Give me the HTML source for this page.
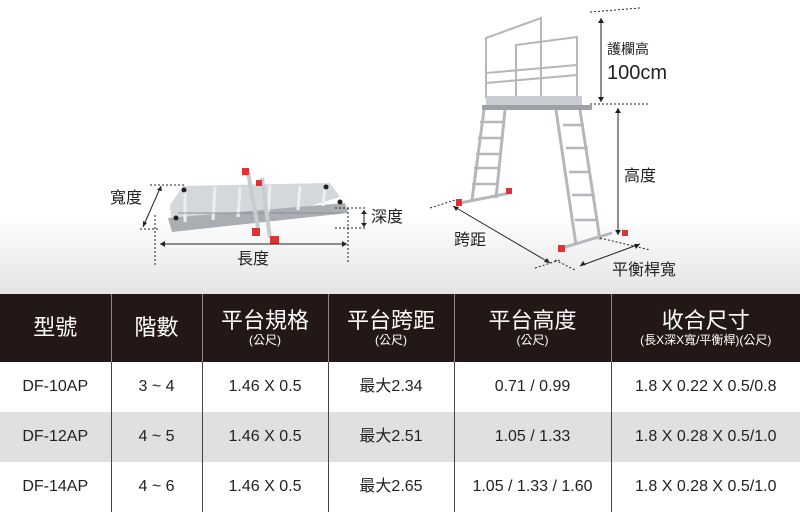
<!DOCTYPE html>
<html><head><meta charset="utf-8"><style>
*{margin:0;padding:0;box-sizing:border-box}
body{width:800px;height:513px;overflow:hidden;background:#fff;font-family:"Liberation Sans","Noto Sans CJK TC",sans-serif;position:relative}
.top{position:absolute;left:0;top:0;width:800px;height:294px;background:linear-gradient(#fff 0,#fff 215px,#e4e4e4 294px)}
svg{position:absolute;left:0;top:0}
.lbl{position:absolute;font-size:16px;color:#222;white-space:nowrap;line-height:1}
table{position:absolute;left:0;top:294px;width:800px;border-collapse:collapse;table-layout:fixed}
th{background:#231815;color:#fff;font-weight:normal;height:68px;border-left:1px solid #888;font-size:22px;line-height:1.1;vertical-align:middle}
th small{display:block;font-size:12px;line-height:1.1}
td{height:50px;text-align:center;font-size:16px;color:#222;border-left:1px solid #444;line-height:20px;vertical-align:middle}
td span{display:inline-block;line-height:20px;vertical-align:top}
th:first-child,td:first-child{border-left:none}
tr.g td{background:#e0e0e0}
</style></head><body>
<div class="top"></div>
<svg width="800" height="294" viewBox="0 0 800 294">
<!-- folded ladder -->
<g>
<path d="M170 205 L183 186 L330 183 L340 197 L258 222 L172 226 Z" fill="#d4d7db"/>
<path d="M168 218 L345 203 L348 213 L172 232 Z" fill="#a9aeb3"/>
<path d="M185 192 L185 222 M215 187 L213 220 M240 187 L238 217 M270 185 L268 214 M300 186 L298 210 M325 186 L323 206" stroke="#eceef0" stroke-width="3"/>
<path d="M178 213 H343" stroke="#8a8f94" stroke-width="1"/>
<g fill="#222"><circle cx="184" cy="190" r="2.5"/><circle cx="326" cy="187" r="2.5"/><circle cx="340" cy="202" r="2.5"/><circle cx="176" cy="218" r="2.5"/></g>
<path d="M248 172 L258 228" stroke="#c8ccd0" stroke-width="4"/>
<path d="M262 178 L270 238" stroke="#c8ccd0" stroke-width="4"/>
<g fill="#d33"><rect x="242" y="168" width="7" height="7"/><rect x="256" y="180" width="6" height="6"/><rect x="252" y="228" width="8" height="8"/><rect x="270" y="236" width="9" height="8"/></g>
</g>
<!-- big ladder -->
<g stroke="#b4b8bc" fill="none" stroke-width="2">
<path d="M486 98 V38 L541 18 V98 M516 98 V45 L577 37 V98 M486 73 L577 65 M486 83 L577 75"/>
<path d="M484 110 L472 200 M505 110 L496 198 M556 110 L576 245 M580 110 L600 240" stroke-width="3"/>
<path d="M480 122 H503 M478 138 H501 M476 154 H499 M474 168 H498 M472 184 H496 M563 125 H584 M566 148 H588 M569 172 H591 M572 195 H595 M575 220 H598" stroke-width="2.5"/>
<path d="M460 203 L510 193 M562 248 L612 233" stroke-width="3"/>
</g>
<rect x="486" y="96" width="96" height="10" fill="#c9cdd1"/>
<rect x="482" y="105" width="110" height="5" fill="#9ca1a6"/>
<g fill="#d33"><rect x="456" y="199" width="6" height="7"/><rect x="506" y="188" width="6" height="6"/><rect x="558" y="245" width="7" height="7"/><rect x="622" y="230" width="6" height="6"/></g>
<g stroke="#222" stroke-width="1" fill="none">
<path d="M150 185 H185 M140 229 H160 M335 208 H365 M335 228 H365 M155 215 V265 M348 208 V262" stroke-dasharray="2,2"/>
<path d="M161 186 L143 227"/>
<path d="M160 244 H347"/>
<path d="M364 210 V227"/>
<path d="M590 12 L640 8 M590 104 L650 104 M430 208 L455 200 M535 268 L560 260 M555 260 L575 270 M600 238 L650 250" stroke-dasharray="2,2"/>
<path d="M601 18 V102 M618 108 V235 M453 206 L550 263 M580 266 L640 244"/>
</g>
<g fill="#222">
<path d="M161 186 l-4 4 5 1z M143 227 l0-6 4 2z M160 244 l5-3 0 6z M347 244 l-5-3 0 6z M364 210 l-3 4 6 0z M364 227 l-3-4 6 0z M601 18 l-3 5 6 0z M601 102 l-3-5 6 0z M618 108 l-3 5 6 0z M618 235 l-3-5 6 0z M453 206 l6 1-3 4z M550 263 l-6-1 3-4z M580 266 l3-5 3 4z M640 244 l-6 0 2 5z"/>
</g>
</svg>
<div class="lbl" style="left:110px;top:191px">寬度</div>
<div class="lbl" style="left:371px;top:210px">深度</div>
<div class="lbl" style="left:237px;top:252px">長度</div>
<div class="lbl" style="left:607px;top:42px;font-size:14px">護欄高</div>
<div class="lbl" style="left:607px;top:63px;font-size:20px">100cm</div>
<div class="lbl" style="left:624px;top:169px">高度</div>
<div class="lbl" style="left:454px;top:233px">跨距</div>
<div class="lbl" style="left:612px;top:263px">平衡桿寬</div>
<table>
<colgroup><col style="width:111px"><col style="width:91px"><col style="width:126px"><col style="width:126px"><col style="width:157px"><col></colgroup>
<tr><th>型號</th><th>階數</th><th>平台規格<small>(公尺)</small></th><th>平台跨距<small>(公尺)</small></th><th>平台高度<small>(公尺)</small></th><th>收合尺寸<small>(長X深X寬/平衡桿)(公尺)</small></th></tr>
<tr><td>DF-10AP</td><td>3 ~ 4</td><td>1.46 X 0.5</td><td><span>最大2.34</span></td><td>0.71 / 0.99</td><td>1.8 X 0.22 X 0.5/0.8</td></tr>
<tr class="g"><td>DF-12AP</td><td>4 ~ 5</td><td>1.46 X 0.5</td><td><span>最大2.51</span></td><td>1.05 / 1.33</td><td>1.8 X 0.28 X 0.5/1.0</td></tr>
<tr><td>DF-14AP</td><td>4 ~ 6</td><td>1.46 X 0.5</td><td><span>最大2.65</span></td><td>1.05 / 1.33 / 1.60</td><td>1.8 X 0.28 X 0.5/1.0</td></tr>
</table>
</body></html>
